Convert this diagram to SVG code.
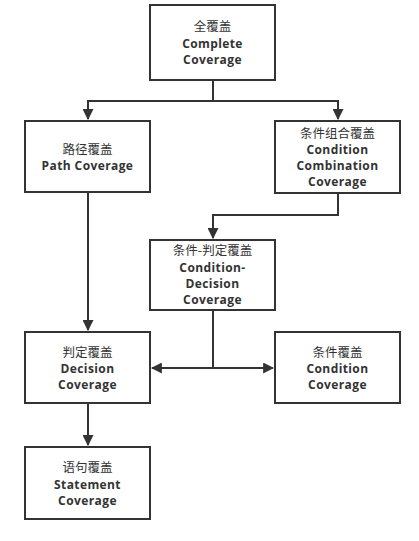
<svg xmlns="http://www.w3.org/2000/svg" width="419" height="541" viewBox="0 0 419 541">
<style>
.box{fill:#fff;stroke:#333;stroke-width:2}
.t{font-family:"Noto Sans CJK SC","Noto Sans",sans-serif;font-size:12.5px;fill:#333;text-anchor:middle}
.e{font-family:"Open Sans","Noto Sans",sans-serif;font-size:12px;letter-spacing:0.4px;font-weight:bold;fill:#333;text-anchor:middle}
.c{fill:none;stroke:#333;stroke-width:2}
</style>
<defs>
<marker id="a" viewBox="0 0 10 10" refX="9" refY="5" markerWidth="5.5" markerHeight="5.5" orient="auto" markerUnits="strokeWidth">
<path d="M0,0L10,5L0,10z" fill="#333"/>
</marker>
</defs>
<rect width="419" height="541" fill="#fff"/>
<g id="connectors">
<path class="c" d="M213,80V101H88V119" marker-end="url(#a)"/>
<path class="c" d="M213,101H338V119" marker-end="url(#a)"/>
<path class="c" d="M338,193V215H213V238" marker-end="url(#a)"/>
<path class="c" d="M88,192V330" marker-end="url(#a)"/>
<path class="c" d="M213,310V368H152" marker-end="url(#a)"/>
<path class="c" d="M213,368H273" marker-end="url(#a)"/>
<path class="c" d="M88,403V445" marker-end="url(#a)"/>
</g>
<g id="complete">
<rect class="box" x="150" y="5" width="125" height="75"/>
<text class="t" x="212.5" y="31">全覆盖</text>
<text class="e" x="212.5" y="48">Complete</text>
<text class="e" x="212.5" y="64">Coverage</text>
</g>
<g id="path">
<rect class="box" x="25" y="121" width="125" height="71"/>
<text class="t" x="87.5" y="154">路径覆盖</text>
<text class="e" x="87.5" y="170">Path Coverage</text>
</g>
<g id="combination">
<rect class="box" x="275" y="121" width="125" height="72"/>
<text class="t" x="337.5" y="138">条件组合覆盖</text>
<text class="e" x="337.5" y="154">Condition</text>
<text class="e" x="337.5" y="170">Combination</text>
<text class="e" x="337.5" y="186">Coverage</text>
</g>
<g id="conddecision">
<rect class="box" x="150" y="240" width="125" height="70"/>
<text class="t" x="212.5" y="255">条件-判定覆盖</text>
<text class="e" x="212.5" y="272">Condition-</text>
<text class="e" x="212.5" y="288">Decision</text>
<text class="e" x="212.5" y="304">Coverage</text>
</g>
<g id="decision">
<rect class="box" x="25" y="332" width="125" height="71"/>
<text class="t" x="87.5" y="357">判定覆盖</text>
<text class="e" x="87.5" y="373">Decision</text>
<text class="e" x="87.5" y="389">Coverage</text>
</g>
<g id="condition">
<rect class="box" x="275" y="332" width="125" height="71"/>
<text class="t" x="337.5" y="357">条件覆盖</text>
<text class="e" x="337.5" y="373">Condition</text>
<text class="e" x="337.5" y="389">Coverage</text>
</g>
<g id="statement">
<rect class="box" x="25" y="447" width="125" height="72"/>
<text class="t" x="87.5" y="472">语句覆盖</text>
<text class="e" x="87.5" y="489">Statement</text>
<text class="e" x="87.5" y="505">Coverage</text>
</g>
</svg>
